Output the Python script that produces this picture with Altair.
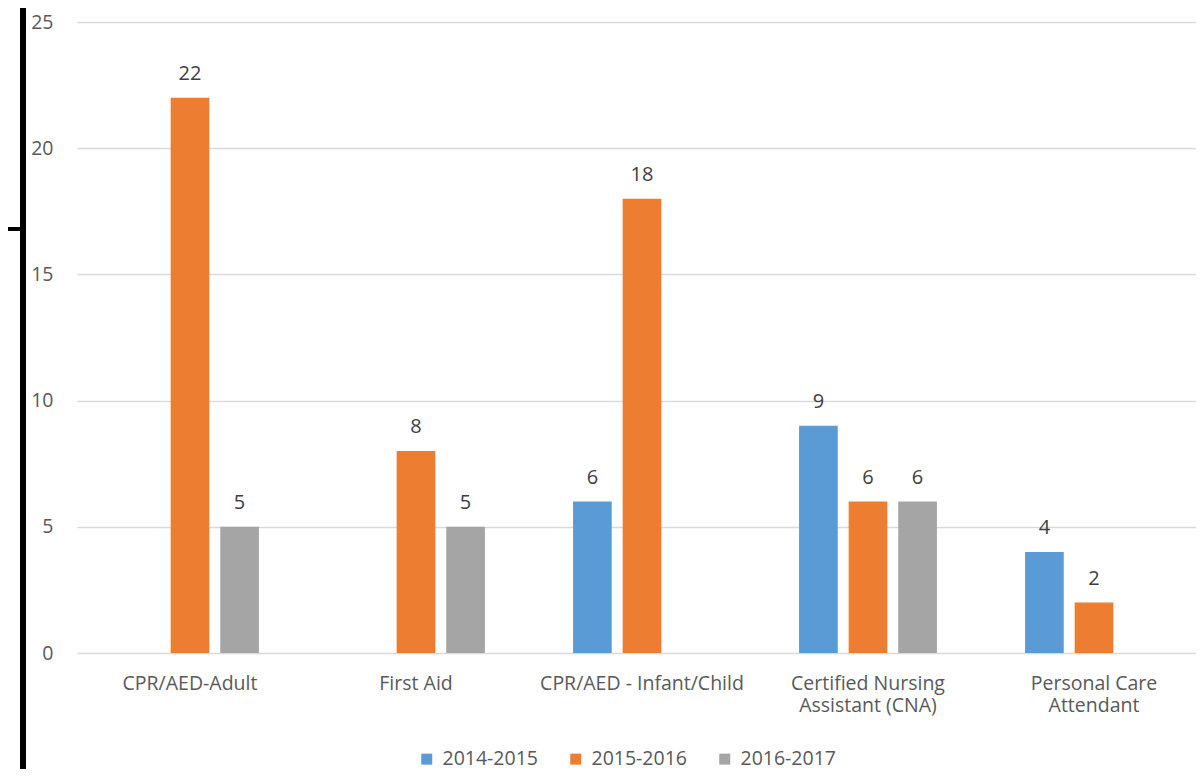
import altair as alt
import pandas as pd

categories = ["CPR/AED-Adult", "First Aid", "CPR/AED - Infant/Child",
              "Certified Nursing\nAssistant (CNA)", "Personal Care\nAttendant"]
series = ["2014-2015", "2015-2016", "2016-2017"]
values_2014 = [None, None, 6, 9, 4]
values_2015 = [22, 8, 18, 6, 2]
values_2016 = [5, 5, None, 6, None]
colors = ["#5B9BD5", "#ED7D31", "#A5A5A5"]

rows = []
for s, vals in zip(series, [values_2014, values_2015, values_2016]):
    for c, v in zip(categories, vals):
        if v is not None:
            rows.append({"category": c, "series": s, "value": v})
df = pd.DataFrame(rows)

FONT = "Open Sans"
FS = 19.5

x = alt.X("category:N", sort=categories, title=None,
          scale=alt.Scale(domain=categories, range=[0, 1130],
                          paddingInner=0.39, paddingOuter=0.195),
          axis=alt.Axis(labelAngle=0, ticks=False, domain=False, grid=False,
                        labelExpr="split(datum.label, '\\n')", labelLimit=400,
                        labelFont=FONT, labelFontSize=FS, labelColor="#595959",
                        labelPadding=21, labelLineHeight=22, labelBaseline="top"))
xo = alt.XOffset("series:N", scale=alt.Scale(domain=series, paddingInner=0.22))
y = alt.Y("value:Q", title=None,
          scale=alt.Scale(domain=[0, 25], nice=False, zero=True),
          axis=alt.Axis(values=[0, 5, 10, 15, 20, 25], ticks=False, domain=False,
                        gridColor="#D9D9D9", gridWidth=1.3,
                        labelFont=FONT, labelFontSize=FS, labelColor="#595959",
                        labelPadding=24))
color = alt.Color("series:N", scale=alt.Scale(domain=series, range=colors),
                  legend=alt.Legend(title=None, orient="none", direction="horizontal",
                                    legendX=340, legendY=727, padding=0,
                                    symbolType="square", symbolSize=121,
                                    symbolStrokeWidth=0, labelFont=FONT,
                                    labelFontSize=FS, labelColor="#595959",
                                    labelOffset=6, columnPadding=28))

bars = alt.Chart(df).mark_bar().encode(x=x, xOffset=xo, y=y, color=color)
labels = alt.Chart(df).mark_text(dy=-18, baseline="alphabetic", font=FONT,
                                 fontSize=20, color="#404040").encode(
    x=alt.X("category:N", sort=categories), xOffset="series:N", y="value:Q",
    text="value:Q")

frame_df = pd.DataFrame({"a": [0]})
vline = alt.Chart(frame_df).mark_rule(color="black", strokeWidth=6).encode(
    x=alt.value(-54), y=alt.value(-14), y2=alt.value(747))
hline = alt.Chart(frame_df).mark_rule(color="black", strokeWidth=4).encode(
    x=alt.value(-69), x2=alt.value(-54), y=alt.value(207))

chart = alt.layer(bars, labels, vline, hline).properties(
    width=1119, height=631,
    autosize=alt.AutoSizeParams(type="none"),
    padding={"left": 69, "top": 14, "right": 0, "bottom": 116},
    background="white",
).configure_view(stroke=None)

chart.save("out.html", embed_options={"renderer": "svg", "actions": False})
